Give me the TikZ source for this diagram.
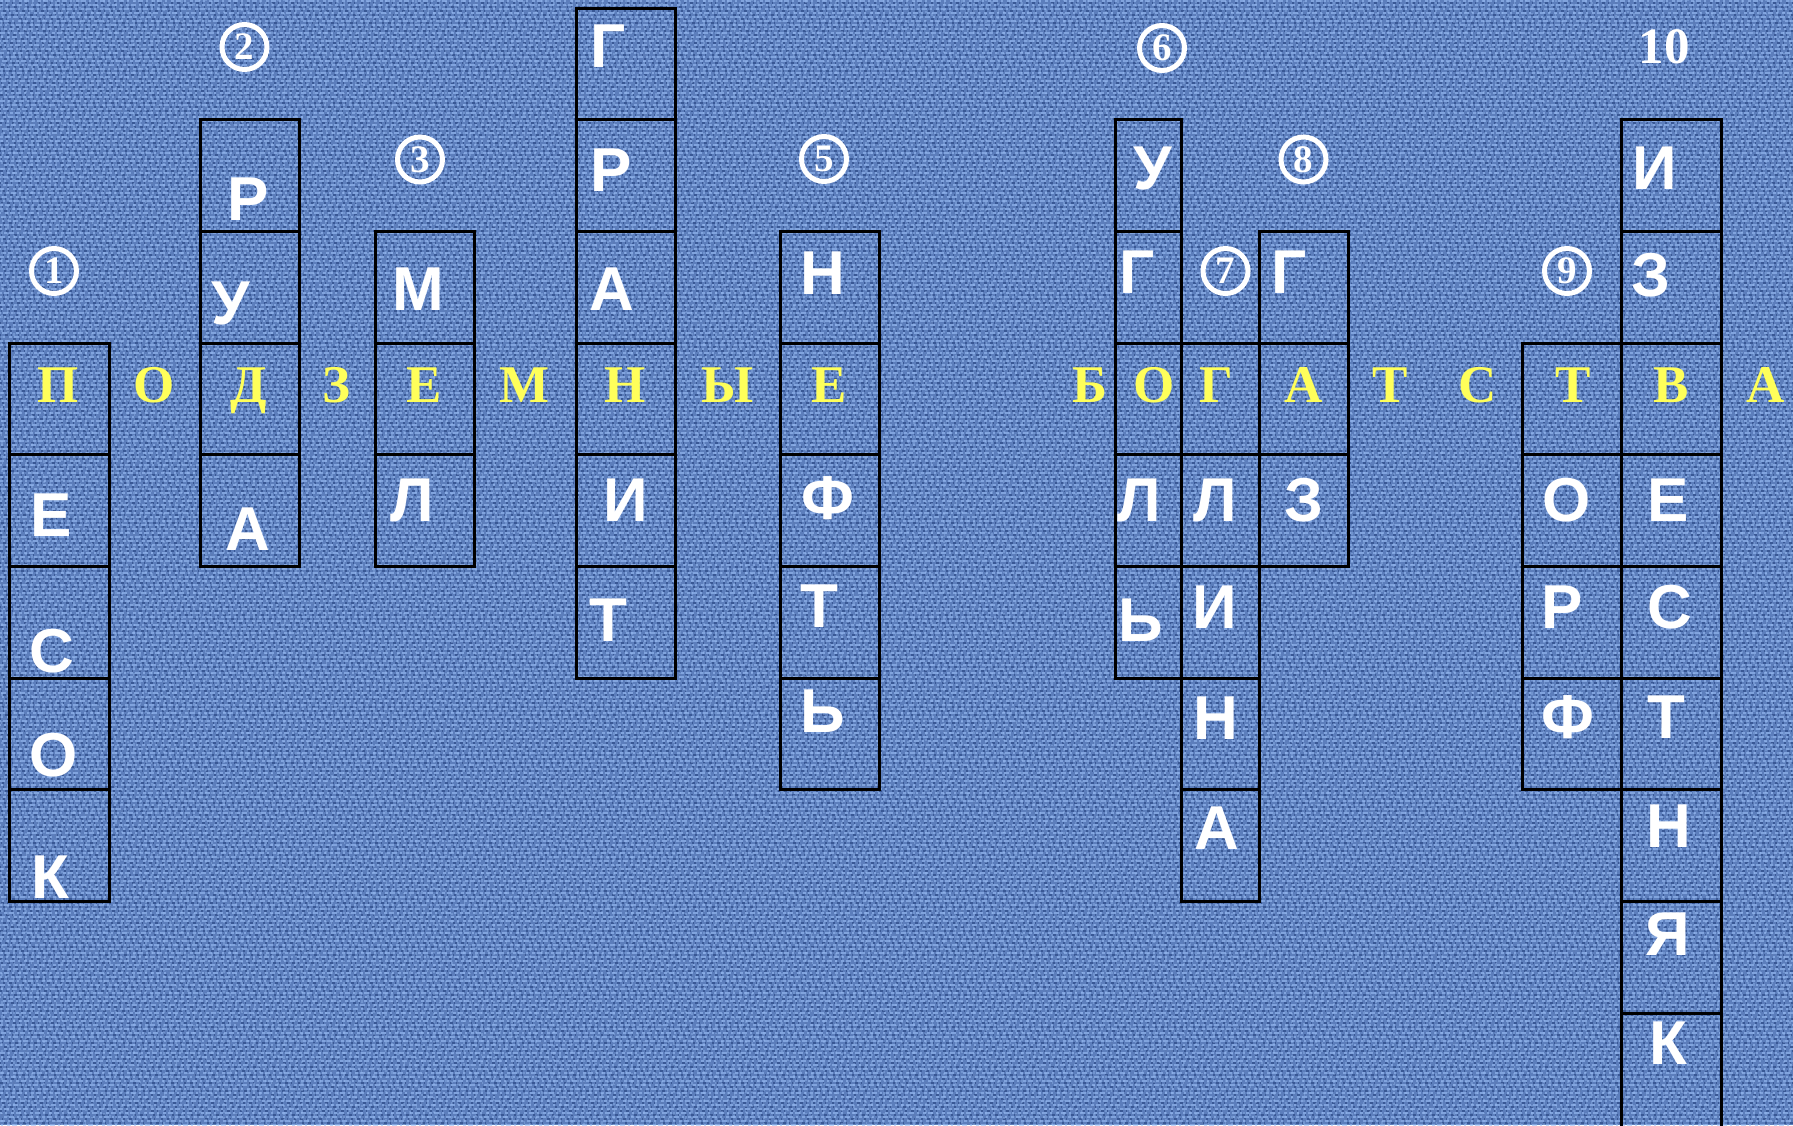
\documentclass[tikz,border=0pt]{standalone}
\usepackage{fontspec}
\newfontfamily\wfont{Liberation Sans}
\newfontfamily\yfont{Liberation Serif}
\definecolor{bgbase}{RGB}{92,126,188}
\definecolor{bglight}{RGB}{155,190,245}
\definecolor{bgdark}{RGB}{30,58,118}
\definecolor{yel}{RGB}{255,255,90}
\tikzset{
  gridline/.style={draw=black, line width=3pt},
  wl/.style={inner sep=0pt, text height=44pt, text depth=0pt, text=white,
             font=\wfont\bfseries\fontsize{62}{62}\selectfont},
  yl/.style={inner sep=0pt, anchor=base, text=yel,
             font=\yfont\bfseries\fontsize{53}{53}\selectfont},
  cnum/.style={circle, draw=white, line width=5pt, minimum size=45pt, inner sep=0pt,
               text=white, font=\yfont\bfseries\fontsize{39}{39}\selectfont},
}
\newcommand{\cwcells}[4]{%
  \foreach \k in {#3,...,#4} {
    \draw[gridline] ({#1},{8+\k*111.7}) rectangle ({#2},{8+(\k+1)*111.7});
  }%
}
\begin{document}
\begin{tikzpicture}[x=1pt,y=-1pt]
\useasboundingbox (0,0) rectangle (1793,1125);
\begin{scope}
\clip (0,0) rectangle (1793,1125);
\fill[bgbase] (0,0) rectangle (1793,1125);
% woven texture
\foreach \i in {0,...,281} {
  \pgfmathtruncatemacro\pha{mod(\i*7,17)}
  \pgfmathtruncatemacro\phb{mod(\i*11,19)}
  \draw[bglight, opacity=0.6, line width=1.6pt,
        dash pattern=on 3pt off 2pt on 5pt off 3pt on 2pt off 4pt, dash phase=\pha pt]
        (0,{\i*4+1}) -- (1793,{\i*4+1});
  \draw[bgdark, opacity=0.55, line width=1.5pt,
        dash pattern=on 2pt off 4pt on 3pt off 3pt on 1pt off 6pt, dash phase=\phb pt]
        (0,{\i*4+3}) -- (1793,{\i*4+3});
}
\foreach \j in {0,...,298} {
  \pgfmathtruncatemacro\phc{mod(\j*5,13)}
  \draw[bglight, opacity=0.35, line width=1.3pt,
        dash pattern=on 2pt off 5pt on 3pt off 4pt, dash phase=\phc pt]
        ({\j*6+2},0) -- ({\j*6+2},1125);
}

% grid columns
\cwcells{9}{109}{3}{7}
\cwcells{200}{299}{1}{4}
\cwcells{375}{474}{2}{4}
\cwcells{576}{675}{0}{5}
\cwcells{780}{879}{2}{6}
\cwcells{1115}{1181}{1}{5}
\cwcells{1181}{1259}{3}{7}
\cwcells{1259}{1348}{2}{4}
\cwcells{1522}{1621}{3}{6}
\cwcells{1621}{1721}{1}{8}
\draw[gridline] (1621,1140) -- (1621,1013.3) -- (1721,1013.3) -- (1721,1140);
\end{scope}

% numbers
\node[cnum] (n1) at (54,271) {1};
\node[cnum] (n2) at (244.5,47) {2};
\node[cnum] (n3) at (420,159.5) {3};
\node[cnum] (n5) at (824,159) {5};
\node[cnum] (n6) at (1162,48) {6};
\node[cnum] (n7) at (1225.5,271) {7};
\node[cnum] (n8) at (1303.5,159.5) {8};
\node[cnum] (n9) at (1567,271) {9};
\node[inner sep=0pt, anchor=base, text=white, font=\yfont\bfseries\fontsize{51}{51}\selectfont] (n10) at (1664,63) {10};

% white letters
\node[wl] (a1) at (51,514) {Е};
\node[wl] (a2) at (52,650) {С};
\node[wl] (a3) at (54,754) {О};
\node[wl] (a4) at (50,876.5) {К};
\node[wl] (b1) at (248,198) {Р};
\node[wl] (b2) at (231,302) {У};
\node[wl] (b3) at (248,528) {А};
\node[wl] (c1) at (418.5,288) {М};
\node[wl] (c2) at (412.5,499) {Л};
\node[wl] (d1) at (608.5,45) {Г};
\node[wl] (d2) at (611,169) {Р};
\node[wl] (d3) at (611.5,288) {А};
\node[wl] (d4) at (626,499) {И};
\node[wl] (d5) at (608.5,619) {Т};
\node[wl] (e1) at (823,272.5) {Н};
\node[wl] (e2) at (827.5,497.5) {Ф};
\node[wl] (e3) at (819.5,605) {Т};
\node[wl] (e4) at (823,710) {Ь};
\node[wl] (f1) at (1153,167) {У};
\node[wl] (f2) at (1137.5,271) {Г};
\node[wl] (f3) at (1139,499) {Л};
\node[wl] (f4) at (1140.5,619) {Ь};
\node[wl] (g1) at (1215,499) {Л};
\node[wl] (g2) at (1215,606.5) {И};
\node[wl] (g3) at (1216,717) {Н};
\node[wl] (g4) at (1216.5,827.5) {А};
\node[wl] (h1) at (1289,271) {Г};
\node[wl] (h2) at (1304,499) {З};
\node[wl] (i1) at (1567,499) {О};
\node[wl] (i2) at (1562.5,606.5) {Р};
\node[wl] (i3) at (1568,716) {Ф};
\node[wl] (j1) at (1655,167) {И};
\node[wl] (j2) at (1651,274) {З};
\node[wl] (j3) at (1668,499) {Е};
\node[wl] (j4) at (1669.5,606.5) {С};
\node[wl] (j5) at (1666,716) {Т};
\node[wl] (j6) at (1669,825) {Н};
\node[wl] (j7) at (1668,933) {Я};
\node[wl] (j8) at (1668,1042) {К};

% yellow title letters
\node[yl] (y1) at (58,402) {П};
\node[yl] (y2) at (154,402) {О};
\node[yl] (y3) at (249,402) {Д};
\node[yl] (y4) at (336,402) {З};
\node[yl] (y5) at (424,402) {Е};
\node[yl] (y6) at (525,402) {М};
\node[yl] (y7) at (625,402) {Н};
\node[yl] (y8) at (727.5,402) {Ы};
\node[yl] (y9) at (829,402) {Е};
\node[yl] (z1) at (1090,402) {Б};
\node[yl] (z2) at (1154,402) {О};
\node[yl] (z3) at (1216,402) {Г};
\node[yl] (z4) at (1303.5,402) {А};
\node[yl] (z5) at (1390,402) {Т};
\node[yl] (z6) at (1478,402) {С};
\node[yl] (z7) at (1573,402) {Т};
\node[yl] (z8) at (1671,402) {В};
\node[yl] (z9) at (1766,402) {А};
\end{tikzpicture}
\end{document}
